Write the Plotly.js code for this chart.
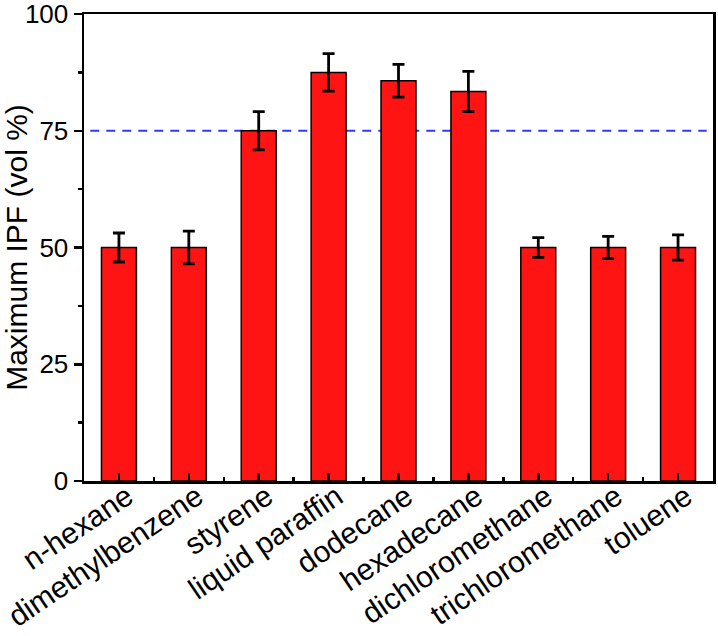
<!DOCTYPE html>
<html>
<head>
<meta charset="utf-8">
<script src="https://cdn.plot.ly/plotly-3.0.1.min.js"></script>
<style>
html,body{margin:0;padding:0;background:#fff;}
#chart{width:718px;height:636px;}
</style>
</head>
<body>
<div id="chart"></div>
<script>
const categories = ["n-hexane","dimethylbenzene","styrene","liquid paraffin","dodecane","hexadecane","dichloromethane","trichloromethane","toluene"];
const values = [50, 50, 75, 87.5, 85.7, 83.4, 50, 50, 50];
const errors = [3.1, 3.5, 4.1, 4.0, 3.5, 4.3, 2.1, 2.4, 2.7];
const thresholdValue = 75;
const yTickVals = [0, 25, 50, 75, 100];

const xIdx = categories.map((_, i) => i);
const font = "Arial, 'Liberation Sans', sans-serif";

const trace = {
  type: "bar",
  x: xIdx,
  y: values,
  width: 0.5,
  marker: {color: "#ff1414", line: {color: "#000", width: 1.5}},
  error_y: {type: "data", array: errors, visible: true, color: "#000", thickness: 2.8, width: 6},
  hoverinfo: "skip"
};

const layout = {
  width: 718, height: 636,
  margin: {l: 84, r: 5, t: 14, b: 155},
  paper_bgcolor: "#fff", plot_bgcolor: "#fff",
  showlegend: false,
  font: {family: font, color: "#000"},
  xaxis: {
    type: "linear",
    range: [-0.5, 8.5],
    tickmode: "array",
    tickvals: xIdx,
    ticktext: categories,
    tickangle: -34,
    ticklabeloverflow: "allow",
    ticklabelstandoff: -16,
    ticklabelshift: 8,
    ticks: "inside", ticklen: 8, tickwidth: 2.5, tickcolor: "#000",
    tickfont: {size: 30, family: font, color: "#000"},
    minor: {tickmode: "linear", tick0: 0.5, dtick: 1, ticks: "inside", ticklen: 4, tickwidth: 2.5, tickcolor: "#000"},
    showline: true, linecolor: "#000", linewidth: 2.5, mirror: true,
    showgrid: false, zeroline: false, fixedrange: true
  },
  yaxis: {
    range: [0, 100],
    tickmode: "array",
    tickvals: yTickVals,
    ticklabeloverflow: "allow",
    ticks: "outside", ticklen: 8, tickwidth: 2.5, tickcolor: "#000",
    tickfont: {size: 26, family: font, color: "#000"},
    minor: {tickmode: "linear", tick0: 12.5, dtick: 25, ticks: "outside", ticklen: 4, tickwidth: 2.5, tickcolor: "#000"},
    title: {text: "Maximum IPF (vol %)", font: {size: 30, family: font, color: "#000"}, standoff: 6},
    showline: true, linecolor: "#000", linewidth: 2.5, mirror: true,
    showgrid: false, zeroline: false, fixedrange: true
  },
  shapes: [{
    type: "line", xref: "paper", yref: "y",
    x0: 0.01, x1: 0.99, y0: thresholdValue, y1: thresholdValue,
    line: {color: "#2b3bff", width: 2.2, dash: "9px,7px"},
    layer: "below"
  }]
};

Plotly.newPlot("chart", [trace], layout, {displayModeBar: false, staticPlot: true});
</script>
</body>
</html>
